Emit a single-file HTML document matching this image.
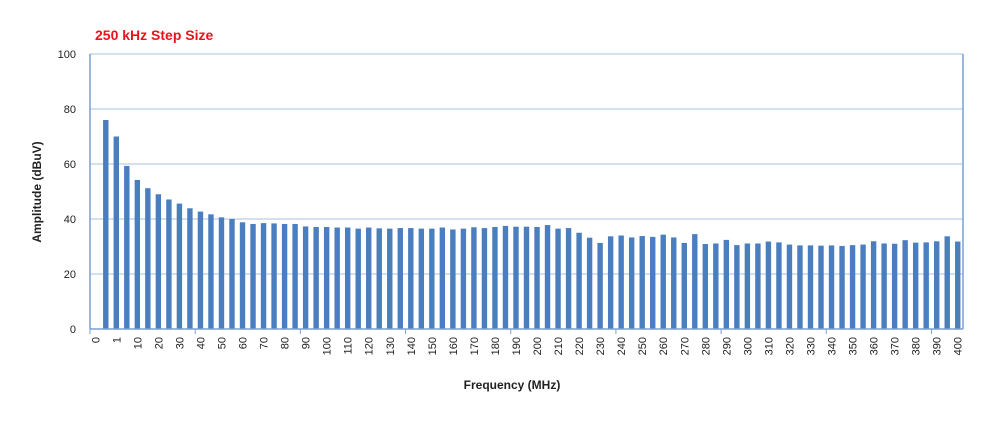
<!DOCTYPE html>
<html><head><meta charset="utf-8"><style>
body{margin:0;background:#fff;}
svg text{font-family:"Liberation Sans",sans-serif;}
</style></head><body>
<svg id="chart" width="1000" height="416" viewBox="0 0 1000 416" xmlns="http://www.w3.org/2000/svg">
<text x="95" y="40" font-size="14" font-weight="bold" fill="#e8141b">250 kHz Step Size</text>
<g id="grid"></g><g id="bars"></g><g id="axes"></g>
<text transform="translate(41,192) rotate(-90)" text-anchor="middle" font-size="12" font-weight="bold" fill="#222">Amplitude (dBuV)</text>
<text x="512" y="389" text-anchor="middle" font-size="12" font-weight="bold" fill="#222">Frequency (MHz)</text>
</svg>
<script>
const labels = ["0","1","10","20","30","40","50","60","70","80","90","100","110","120","130","140","150","160","170","180","190","200","210","220","230","240","250","260","270","280","290","300","310","320","330","340","350","360","370","380","390","400"];
const values = [76,70,59.3,54.2,51.2,49,47.1,45.6,43.9,42.7,41.7,40.6,40,38.8,38.2,38.5,38.4,38.2,38.2,37.3,37.1,37.1,36.9,36.9,36.5,36.9,36.6,36.5,36.7,36.7,36.5,36.5,36.9,36.2,36.5,37.0,36.7,37.1,37.5,37.2,37.2,37.1,37.8,36.5,36.7,35.0,33.2,31.3,33.7,34.0,33.3,33.8,33.5,34.3,33.3,31.3,34.5,30.9,31.1,32.4,30.5,31.1,31.1,31.8,31.5,30.7,30.4,30.4,30.3,30.4,30.2,30.5,30.7,31.9,31.1,31.0,32.3,31.4,31.5,31.9,33.7,31.8];
const yTicks = [0,20,40,60,80,100];
const NS="http://www.w3.org/2000/svg";
const L=90,R=963,T=54,B=329,nCat=83;
const w=(R-L)/nCat;
const y=v=>B-(v/100)*(B-T);
const cx=i=>L+(i+0.5)*w;
function mk(tag,attrs,parent){const e=document.createElementNS(NS,tag);for(const k in attrs)e.setAttribute(k,attrs[k]);parent.appendChild(e);return e;}
const grid=document.getElementById('grid'),bars=document.getElementById('bars'),axes=document.getElementById('axes');
yTicks.forEach(t=>{
  if(t>0){const g=mk('line',{x1:L,x2:R,y1:y(t),y2:y(t),stroke:'#c6d6ec','stroke-width':1.5},grid);
  
  }
  const tx=mk('text',{x:76,y:y(t)+4,'text-anchor':'end','font-size':11,fill:'#222'},axes);
  tx.textContent=t;
  
  
});
values.forEach((v,i)=>{
  const b=mk('rect',{x:cx(i+1)-2.7,y:y(v),width:5.4,height:B-y(v),fill:'#4a7ebf'},bars);
  
  
});
const ax=mk('line',{x1:L,x2:L,y1:T,y2:B,stroke:'#7a9fd4','stroke-width':1.5},axes);


const rb=mk('line',{x1:R,x2:R,y1:T,y2:B,stroke:'#7a9fd4','stroke-width':1.5},axes);


const xa=mk('line',{x1:L,x2:R,y1:B,y2:B,stroke:'#7a9fd4','stroke-width':1.5},axes);


for(let i=0;i<=nCat;i+=10){
  const tk=mk('line',{x1:L+i*w,x2:L+i*w,y1:B,y2:B+5,stroke:'#7a9fd4'},axes);
  
  
}
labels.forEach((s,k)=>{
  const x=cx(2*k);
  const tx=mk('text',{transform:`translate(${x+4},${B+8}) rotate(-90)`,'text-anchor':'end','font-size':11,fill:'#222'},axes);
  tx.textContent=s;
  
  
});
</script>
</body></html>
